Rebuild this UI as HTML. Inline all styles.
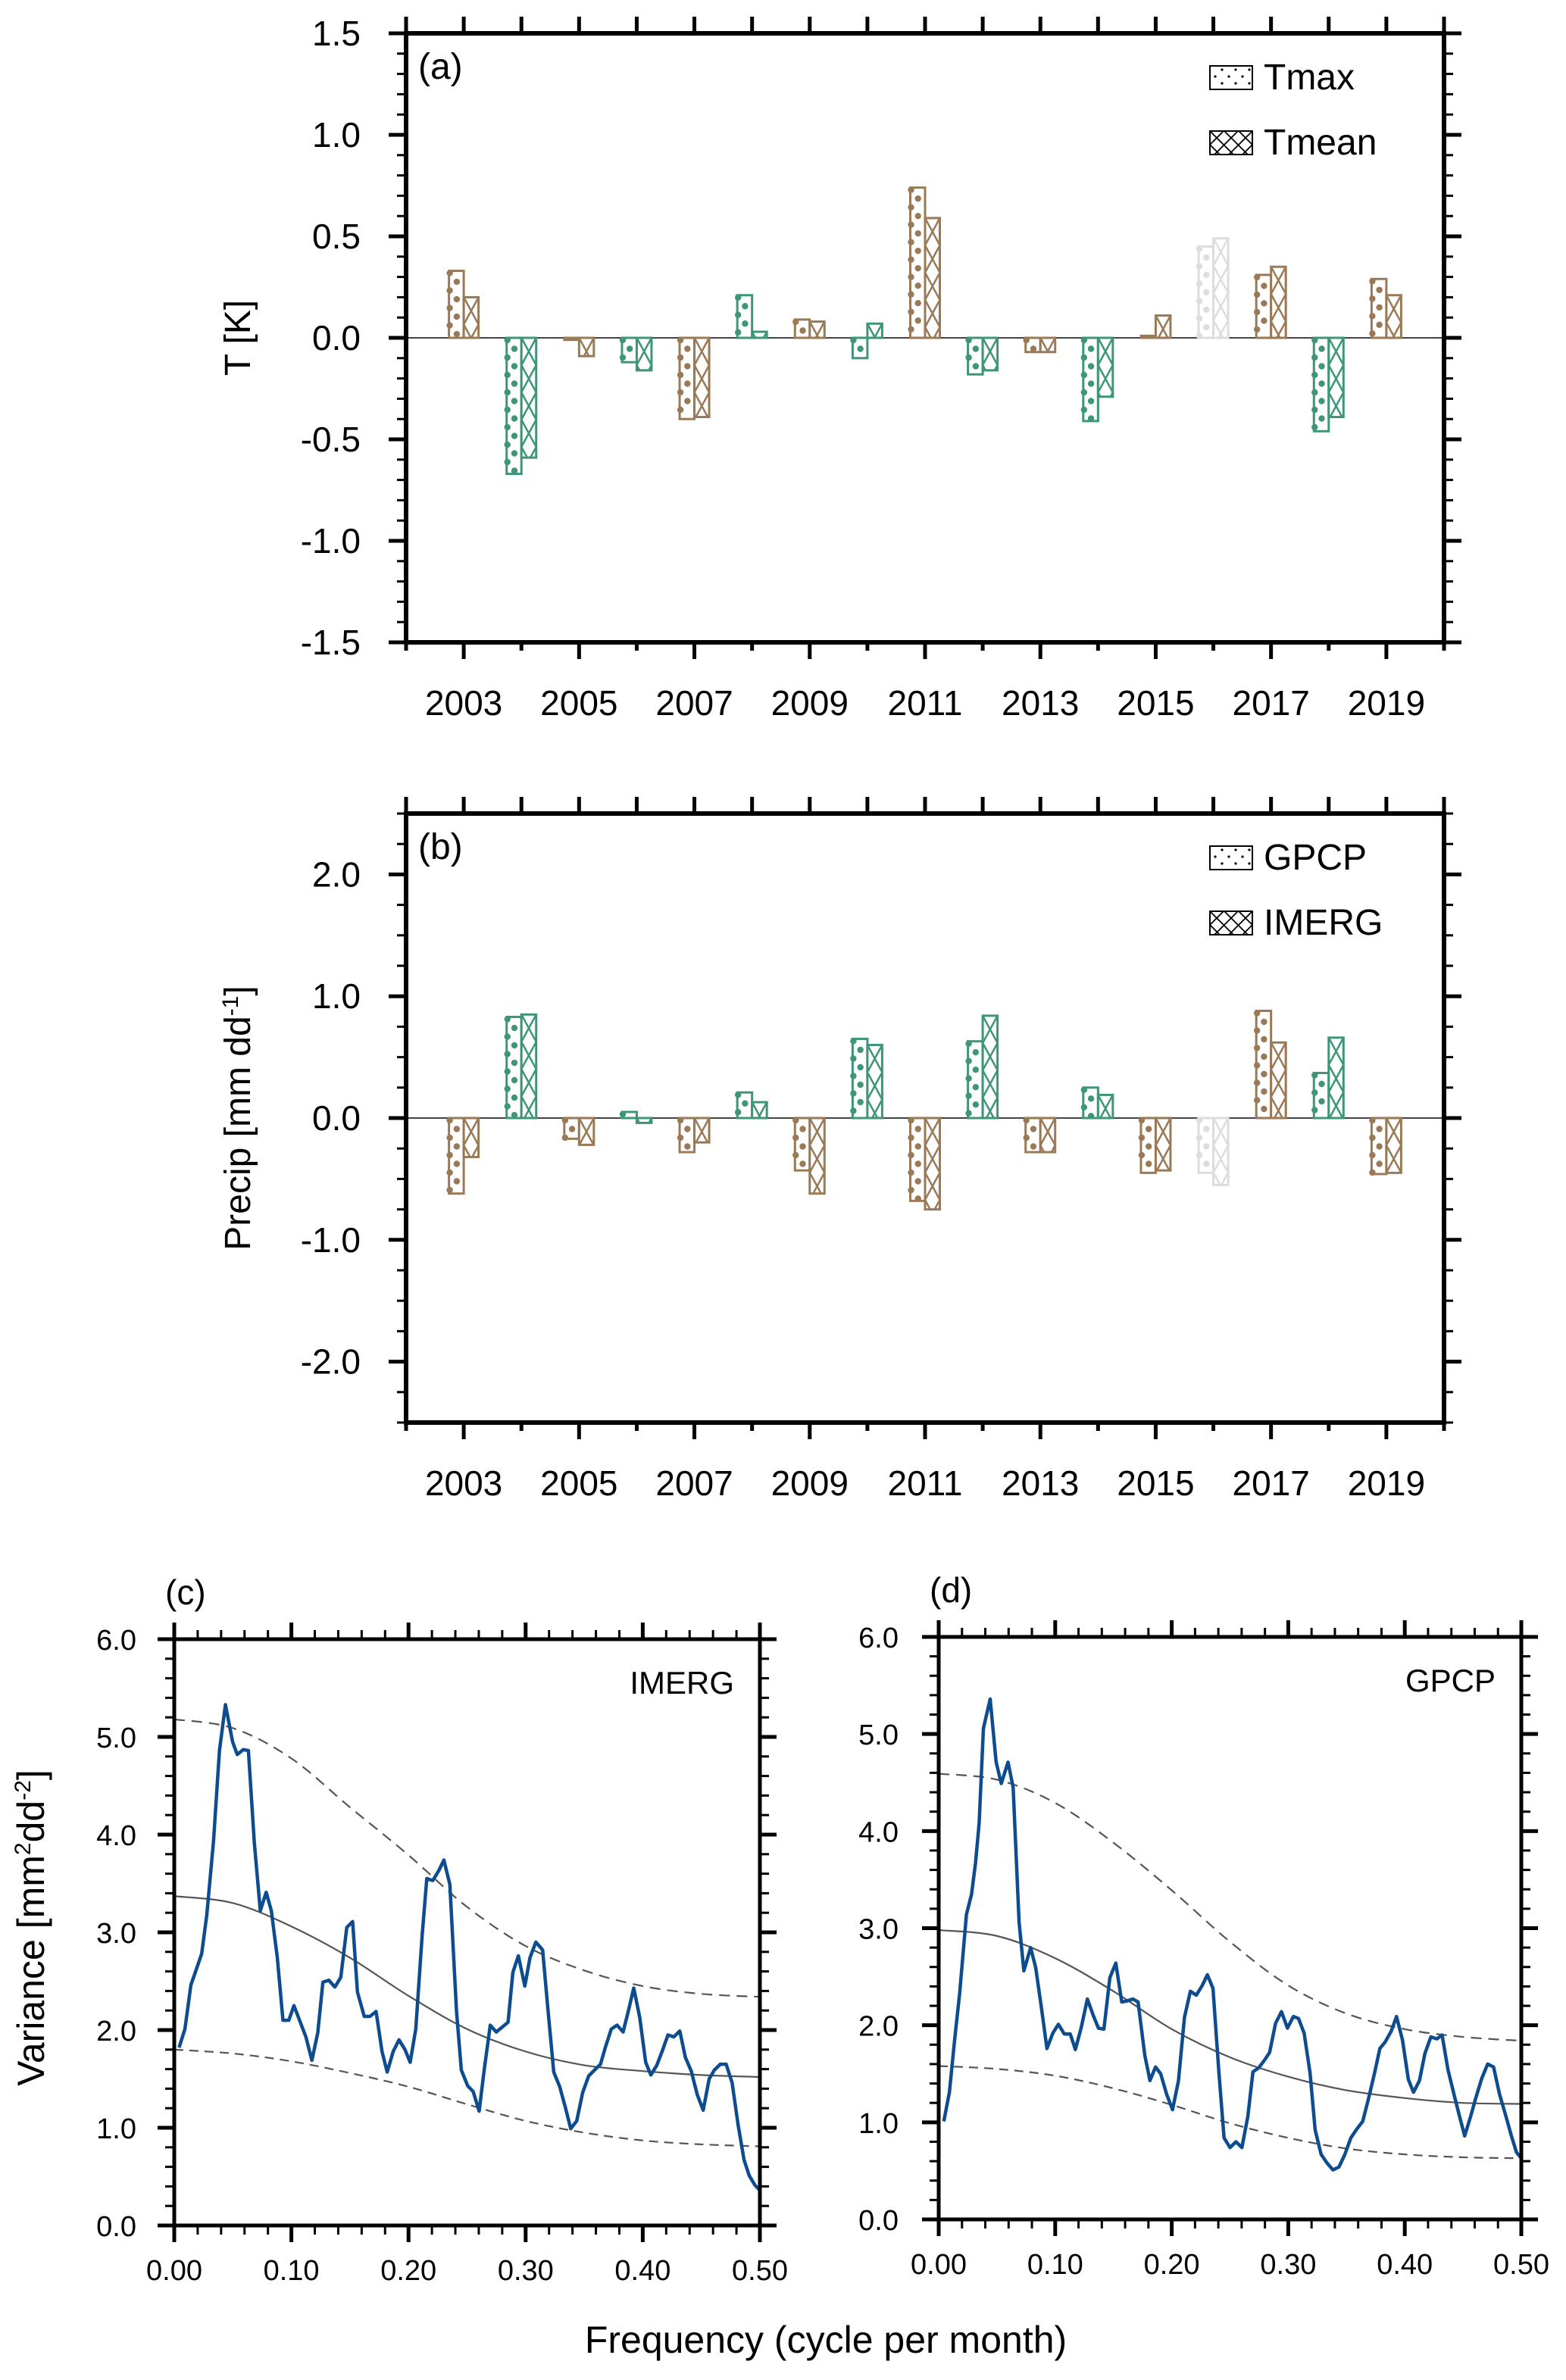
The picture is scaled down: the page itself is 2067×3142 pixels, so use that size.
<!DOCTYPE html>
<html><head><meta charset="utf-8"><style>
html,body{margin:0;padding:0;background:#fff}
svg{display:block;font-family:"Liberation Sans",Arial,sans-serif}
</style></head><body>
<svg id="fig" width="2067" height="3142" viewBox="0 0 2067 3142" xmlns="http://www.w3.org/2000/svg"></svg>
<script>
// ---------- data ----------
const years = [2003,2004,2005,2006,2007,2008,2009,2010,2011,2012,2013,2014,2015,2016,2017,2018,2019];
const colorGroup = ["b","g","b","g","b","g","b","g","b","g","b","g","b","x","b","g","b"];
const tmax  = [0.33,-0.67,-0.01,-0.12,-0.40,0.21,0.09,-0.10,0.74,-0.18,-0.07,-0.41,0.01,0.45,0.31,-0.46,0.29];
const tmean = [0.20,-0.59,-0.09,-0.16,-0.39,0.03,0.08,0.07,0.59,-0.16,-0.07,-0.29,0.11,0.49,0.35,-0.39,0.21];
const gpcp  = [-0.62,0.83,-0.17,0.05,-0.28,0.21,-0.43,0.65,-0.68,0.63,-0.28,0.25,-0.45,-0.45,0.88,0.37,-0.46];
const imerg = [-0.32,0.85,-0.22,-0.04,-0.20,0.13,-0.62,0.60,-0.75,0.84,-0.28,0.19,-0.43,-0.55,0.62,0.66,-0.45];
const yTicksA = [1.5,1.0,0.5,0.0,-0.5,-1.0,-1.5];
const yTickLabelsA = ["1.5","1.0","0.5","0.0","-0.5","-1.0","-1.5"];
const yTicksB = [2.0,1.0,0.0,-1.0,-2.0];
const yTickLabelsB = ["2.0","1.0","0.0","-1.0","-2.0"];
const yearLabels = [2003,2005,2007,2009,2011,2013,2015,2017,2019];

const freqC = [.0041,.0091,.0142,.0234,.0278,.0335,.0386,.0437,.0498,.0538,.0589,.0633,.0684,.0735,.0785,.0829,.0880,.0928,.0978,.1022,.1073,.1124,.1175,.1225,.1269,.1320,.1371,.1422,.1473,.1523,.1564,.1622,.1672,.1723,.1774,.1818,.1869,.1919,.1970,.2014,.2062,.2116,.2156,.2207,.2258,.2302,.2353,.2410,.2451,.2505,.2552,.2603,.2647,.2698,.2749,.2800,.2850,.2891,.2938,.2993,.3037,.3087,.3145,.3189,.3240,.3291,.3341,.3385,.3436,.3487,.3538,.3588,.3639,.3680,.3731,.3781,.3832,.3876,.3923,.3974,.4025,.4069,.4120,.4171,.4215,.4265,.4316,.4364,.4414,.4465,.4516,.4567,.4611,.4662,.4712,.4763,.4814,.4865,.4909,.4959,.5000];
const specC = [1.82,2.01,2.46,2.78,3.18,3.93,4.86,5.33,4.95,4.82,4.87,4.86,3.91,3.22,3.41,3.22,2.74,2.10,2.10,2.25,2.09,1.93,1.69,1.97,2.49,2.51,2.44,2.54,3.05,3.11,2.39,2.14,2.14,2.19,1.78,1.57,1.78,1.90,1.80,1.67,2.01,2.96,3.55,3.53,3.63,3.74,3.49,2.19,1.59,1.43,1.37,1.17,1.60,2.05,1.98,2.03,2.08,2.59,2.76,2.45,2.74,2.90,2.82,2.23,1.57,1.42,1.20,0.99,1.07,1.36,1.53,1.59,1.65,1.82,2.01,2.05,1.98,2.19,2.43,2.13,1.67,1.54,1.64,1.80,1.95,1.93,1.99,1.72,1.58,1.34,1.18,1.50,1.59,1.65,1.65,1.46,1.03,0.67,0.51,0.41,0.36];
const freqD = [.0044,.0092,.0136,.0180,.0238,.0282,.0316,.0347,.0384,.0442,.0493,.0537,.0595,.0639,.0690,.0731,.0789,.0833,.0884,.0929,.0980,.1027,.1078,.1129,.1173,.1224,.1276,.1327,.1371,.1418,.1469,.1520,.1571,.1616,.1667,.1711,.1769,.1813,.1861,.1905,.1956,.2007,.2058,.2109,.2160,.2211,.2262,.2306,.2354,.2405,.2449,.2500,.2551,.2602,.2653,.2697,.2745,.2796,.2840,.2891,.2942,.2993,.3044,.3088,.3136,.3187,.3231,.3282,.3333,.3384,.3435,.3486,.3537,.3588,.3639,.3690,.3741,.3786,.3833,.3884,.3929,.3980,.4031,.4075,.4126,.4173,.4224,.4276,.4320,.4371,.4422,.4466,.4514,.4565,.4609,.4660,.4711,.4762,.4813,.4864,.4915,.4959,.5000];
const specD = [1.01,1.31,1.84,2.33,3.14,3.35,3.67,4.08,5.06,5.36,4.71,4.49,4.71,4.45,3.06,2.56,2.80,2.59,2.16,1.76,1.92,2.01,1.91,1.91,1.75,1.98,2.27,2.10,1.97,1.96,2.49,2.64,2.24,2.25,2.27,2.24,1.69,1.43,1.57,1.50,1.29,1.13,1.43,2.08,2.35,2.31,2.41,2.52,2.38,1.51,0.84,0.74,0.80,0.74,1.06,1.52,1.56,1.64,1.72,2.02,2.14,1.97,2.09,2.07,1.92,1.51,0.92,0.67,0.58,0.51,0.54,0.67,0.84,0.93,1.01,1.25,1.51,1.76,1.83,1.94,2.09,1.85,1.44,1.31,1.43,1.71,1.88,1.86,1.90,1.54,1.29,1.08,0.86,1.06,1.25,1.45,1.60,1.57,1.29,1.08,0.86,0.69,0.63];
const rnFreq = [0,0.05,0.1,0.15,0.2,0.25,0.3,0.35,0.4,0.45,0.5];
const rnMeanC = [3.37,3.30,3.06,2.74,2.35,2.01,1.78,1.64,1.58,1.54,1.52];
const rnUpC   = [5.18,5.09,4.78,4.28,3.79,3.26,2.86,2.61,2.45,2.37,2.34];
const rnLowC  = [1.80,1.76,1.68,1.56,1.42,1.24,1.07,0.95,0.87,0.83,0.81];
const rnMeanD = [2.98,2.92,2.69,2.35,1.96,1.67,1.47,1.33,1.25,1.20,1.19];
const rnUpD   = [4.59,4.53,4.29,3.88,3.39,2.86,2.41,2.12,1.96,1.88,1.84];
const rnLowD  = [1.58,1.55,1.48,1.35,1.18,0.99,0.84,0.73,0.67,0.64,0.63];
const specXTicks = [0,0.1,0.2,0.3,0.4,0.5];
const specXLabels = ["0.00","0.10","0.20","0.30","0.40","0.50"];
const specYTicks = [0,1,2,3,4,5,6];
const specYLabels = ["0.0","1.0","2.0","3.0","4.0","5.0","6.0"];

// ---------- helpers ----------
const NS="http://www.w3.org/2000/svg";
const svg=document.getElementById('fig');
function mk(tag,attrs,parent){const e=document.createElementNS(NS,tag);for(const k in attrs)e.setAttribute(k,attrs[k]);(parent||svg).appendChild(e);return e;}
function txt(s,x,y,size,anchor,parent,extra){const t=mk('text',Object.assign({x:x,y:y,'font-size':size,'text-anchor':anchor||'middle',fill:'#000'},extra||{}),parent);t.textContent=s;return t;}
const COL={b:'#9a7a56',g:'#3f957a',x:'#dddddd'};

// ---------- bar panels ----------
function barPanel(name,box,ymin,ymax,majors,majorLabels,minorStep,s1,s2,ytitle,tag,leg1,leg2){
  const g=mk('g',{});
  
  
  const xmin=2002,xmax=2020;
  const X=v=>box.l+(v-xmin)/(xmax-xmin)*(box.r-box.l);
  const Y=v=>box.t+(ymax-v)/(ymax-ymin)*(box.b-box.t);
  const z=mk('line',{x1:box.l,x2:box.r,y1:Y(0),y2:Y(0),stroke:'#444','stroke-width':2},g);
  
  
  const bw=19.5;
  years.forEach((yr,i)=>{
    const c=COL[colorGroup[i]];
    [[s1[i],X(yr)-bw,'dot'],[s2[i],X(yr),'cross']].forEach(([v,x0,kind])=>{
      const y0=Math.min(Y(0),Y(v)),h=Math.abs(Y(v)-Y(0));
      const bg=mk('g',{},g);
      
      
      mk('rect',{x:x0,y:y0,width:bw,height:Math.max(h,1.5),fill:'#fff',stroke:c,'stroke-width':3},bg);
      if(kind==='dot'){
        let k=0;
        for(let yy=y0+3;yy<=y0+h-1;yy+=11.5,k++){
          mk('circle',{cx:(k%2===0)?x0+1:x0+bw/2+0.5,cy:yy,r:4.2,fill:c},bg);
        }
      } else {
        const step=36;
        let d='';
        for(let yy=y0;yy<y0+h;yy+=step){
          const y2=Math.min(yy+step,y0+h),frac=(y2-yy)/step;
          d+=`M${x0},${yy}L${x0+bw*frac},${y2}M${x0+bw},${yy}L${x0+bw*(1-frac)},${y2}`;
        }
        if(h>2) mk('path',{d:d,stroke:c,'stroke-width':2.5,fill:'none'},bg);
      }
    });
  });
  const fr=mk('rect',{x:box.l,y:box.t,width:box.r-box.l,height:box.b-box.t,fill:'none',stroke:'#000','stroke-width':6},g);
  
  
  for(let v=ymin;v<=ymax+1e-6;v+=minorStep){
    const isMaj=majors.some(m=>Math.abs(m-v)<1e-6);
    const L=isMaj?23:12;
    mk('line',{x1:box.l-L,x2:box.l,y1:Y(v),y2:Y(v),stroke:'#000','stroke-width':isMaj?5:3},g);
    mk('line',{x1:box.r,x2:box.r+L,y1:Y(v),y2:Y(v),stroke:'#000','stroke-width':isMaj?5:3},g);
  }
  majors.forEach((m,i)=>{
    const t=txt(majorLabels[i],box.l-60,Y(m)+16,46,'end',g);
    
    
  });
  for(let yr=2002;yr<=2020;yr++){
    const lab=yearLabels.indexOf(yr)>=0;
    mk('line',{x1:X(yr),x2:X(yr),y1:box.t-22,y2:box.t,stroke:'#000','stroke-width':5},g);
    mk('line',{x1:X(yr),x2:X(yr),y1:box.b,y2:box.b+(lab?22:11),stroke:'#000','stroke-width':5},g);
  }
  yearLabels.forEach(yr=>{
    const t=txt(String(yr),X(yr),box.b+96,46,'middle',g);
    
    
  });
  const yt=txt('',0,0,48,'middle',g,{transform:`translate(${330},${(box.t+box.b)/2}) rotate(-90)`});
  yt.innerHTML=ytitle;
  
  
  const pt=txt(tag,box.l+16,box.t+60,48,'start',g);
  
  
  [[leg1,'dot',box.t+43],[leg2,'cross',box.t+129]].forEach(([lab,kind,yy])=>{
    const lg=mk('g',{},g);
    
    
    mk('rect',{x:1597,y:yy,width:56,height:31,fill:'#fff',stroke:'#000','stroke-width':2},lg);
    if(kind==='dot'){
      [[1613,yy+5],[1631,yy+5],[1649,yy+5],[1604,yy+14],[1622,yy+14],[1640,yy+14],[1613,yy+23],[1631,yy+23],[1649,yy+23]].forEach(p=>mk('circle',{cx:p[0],cy:p[1],r:1.6,fill:'#000'},lg));
    } else {
      mk('path',{d:`M1597,${yy}L1628,${yy+31}M1616,${yy}L1647,${yy+31}M1635,${yy}L1653,${yy+18}M1597,${yy+18}L1610,${yy+31}M1653,${yy}L1622,${yy+31}M1634,${yy}L1603,${yy+31}M1615,${yy}L1597,${yy+18}M1653,${yy+18}L1640,${yy+31}`,stroke:'#000','stroke-width':1.8,fill:'none'},lg);
    }
    txt(lab,1668,yy+31,48,'start',lg);
  });
}
barPanel('panel-a-temperature',{l:536,r:1906,t:44,b:848},-1.5,1.5,yTicksA,yTickLabelsA,0.1,tmax,tmean,'T [K]','(a)','Tmax','Tmean');
barPanel('panel-b-precip',{l:536,r:1906,t:1074,b:1878},-2.5,2.5,yTicksB,yTickLabelsB,0.25,gpcp,imerg,'Precip [mm dd<tspan font-size="30" dy="-16">-1</tspan><tspan dy="16">]</tspan>','(b)','GPCP','IMERG');

// ---------- spectrum panels ----------
function smoothPath(pts){
  let d=`M${pts[0][0]},${pts[0][1]}`;
  for(let i=0;i<pts.length-1;i++){
    const p0=pts[Math.max(i-1,0)],p1=pts[i],p2=pts[i+1],p3=pts[Math.min(i+2,pts.length-1)];
    d+=`C${p1[0]+(p2[0]-p0[0])/6},${p1[1]+(p2[1]-p0[1])/6} ${p2[0]-(p3[0]-p1[0])/6},${p2[1]-(p3[1]-p1[1])/6} ${p2[0]},${p2[1]}`;
  }
  return d;
}
function specPanel(name,box,fq,sp,mean,up,low,tag,lab,ylabX){
  const g=mk('g',{});
  
  
  const X=v=>box.l+v/0.5*(box.r-box.l);
  const Y=v=>box.b-v/6*(box.b-box.t);
  [[low,'12,8','lower-confidence'],[up,'14,9','upper-confidence'],[mean,'','red-noise-mean']].forEach(([arr,dash,nm])=>{
    const p=mk('path',{d:smoothPath(rnFreq.map((f,i)=>[X(f),Y(arr[i])])),fill:'none',stroke:'#555','stroke-width':2.2,'stroke-dasharray':dash||'none'},g);
    
    
  });
  const sl=mk('polyline',{points:fq.map((f,i)=>X(f)+','+Y(sp[i])).join(' '),fill:'none',stroke:'#0d4c8f','stroke-width':4.5,'stroke-linejoin':'round'},g);
  
  
  const fr=mk('rect',{x:box.l,y:box.t,width:box.r-box.l,height:box.b-box.t,fill:'none',stroke:'#000','stroke-width':5},g);
  
  
  for(let k=0;k<=25;k++){
    const v=k*0.02,maj=k%5===0,L=maj?22:12;
    mk('line',{x1:X(v),x2:X(v),y1:box.b,y2:box.b+L,stroke:'#000','stroke-width':maj?5:3},g);
    mk('line',{x1:X(v),x2:X(v),y1:box.t-L,y2:box.t,stroke:'#000','stroke-width':maj?5:3},g);
  }
  for(let k=0;k<=30;k++){
    const v=k*0.2,maj=k%5===0,L=maj?22:12;
    mk('line',{x1:box.l-L,x2:box.l,y1:Y(v),y2:Y(v),stroke:'#000','stroke-width':maj?5:3},g);
    mk('line',{x1:box.r,x2:box.r+L,y1:Y(v),y2:Y(v),stroke:'#000','stroke-width':maj?5:3},g);
  }
  specXTicks.forEach((v,i)=>{
    const t=txt(specXLabels[i],X(v),box.b+72,38,'middle',g);
    
    
  });
  specYTicks.forEach((v,i)=>{
    const t=txt(specYLabels[i],ylabX,Y(v)+14,38,'end',g);
    
    
  });
  const pt=txt(tag,box.l-12,box.t-46,46,'start',g);
  
  
  const lt=txt(lab,box.r-34,box.t+72,42,'end',g);
  
  
}
specPanel('panel-c-imerg-spectrum',{l:230,r:1003,t:2164,b:2938},freqC,specC,rnMeanC,rnUpC,rnLowC,'(c)','IMERG',180);
specPanel('panel-d-gpcp-spectrum',{l:1239,r:2008,t:2161,b:2930},freqD,specD,rnMeanD,rnUpD,rnLowD,'(d)','GPCP',1186);

const xt=txt('Frequency (cycle per month)',1090,3106,50,'middle');


const vt=txt('',0,0,50,'middle',svg,{transform:'translate(58,2545) rotate(-90)'});
vt.innerHTML='Variance [mm<tspan font-size="30" dy="-18">2</tspan><tspan dy="18">dd</tspan><tspan font-size="30" dy="-18">-2</tspan><tspan dy="18">]</tspan>';


</script>
</body></html>
